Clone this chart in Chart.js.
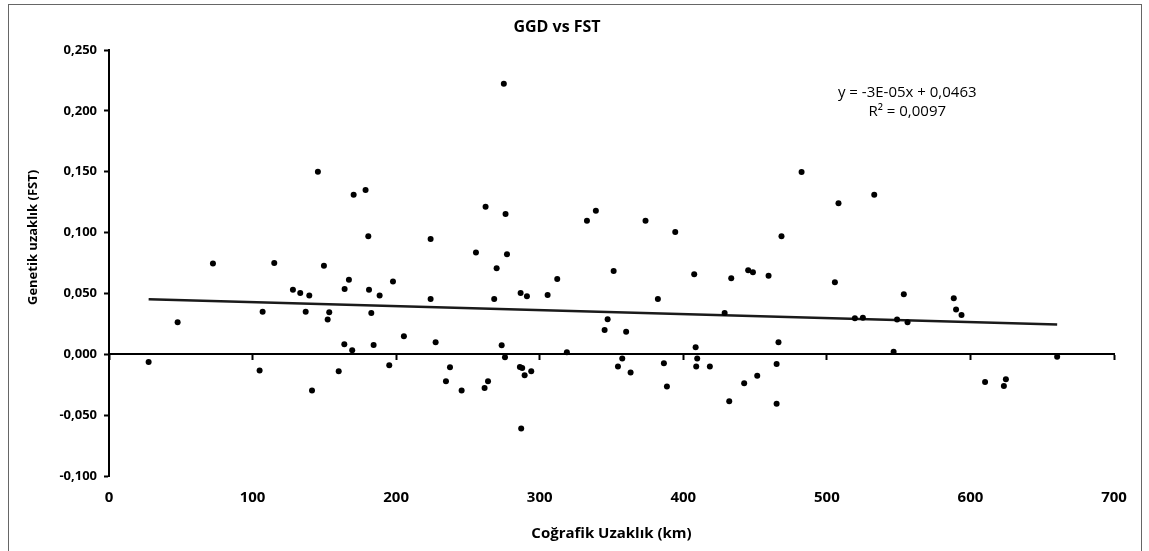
<!DOCTYPE html>
<html>
<head>
<meta charset="utf-8">
<title>GGD vs FST</title>
<script src="https://cdn.jsdelivr.net/npm/chart.js@4.4.1/dist/chart.umd.min.js"></script>
<style>
  html, body { margin:0; padding:0; background:#fff; }
  #wrap { position:relative; width:1149px; height:551px; overflow:hidden; }
  #frame { position:absolute; left:8px; top:4px; width:1132px; height:600px; border:1px solid #666; pointer-events:none; }
  canvas { position:absolute; left:0; top:0; }
</style>
</head>
<body>
<div id="wrap">
  <canvas id="c" width="1149" height="551"></canvas>
  <div id="frame"></div>
</div>
<script>
// distances (km) and FST values
const distKm = [27.6, 47.8, 72.4, 104.9, 107, 115.1, 128.1, 133.2, 137, 139.5,
  141.4, 145.5, 149.7, 152.3, 153.4, 160, 163.9, 164.1, 167.1, 169.4,
  170.4, 178.7, 180.6, 181.1, 182.7, 184.3, 188.5, 195.2, 197.8, 205.4,
  224, 224, 227.5, 234.7, 237.5, 245.6, 255.6, 261.6, 262.3, 264,
  268.3, 270, 273.5, 275, 275.8, 276.2, 277.2, 286.2, 286.7, 287.1,
  287.8, 289.5, 291.1, 294.1, 305.5, 312.2, 318.9, 332.9, 339.1, 345.2,
  347.3, 351.5, 354.5, 357.5, 360.2, 363.3, 373.7, 382.3, 386.5, 388.6,
  394.4, 407.6, 408.6, 409.7, 409, 418.5, 428.8, 432, 433.4, 442.4,
  445.2, 448.5, 451.5, 459.4, 465, 465, 466.3, 468.4, 482.4, 505.6,
  508.1, 519.5, 525.1, 533, 546.5, 548.9, 553.6, 556.2, 588.4, 590,
  593.8, 610.2, 623.3, 624.7, 660.4];
const fst = [-0.0063, 0.0263, 0.0745, -0.0134, 0.035, 0.075, 0.0531, 0.0504, 0.035, 0.0482,
  -0.0298, 0.150, 0.0728, 0.0285, 0.0345, -0.0139, 0.0082, 0.0537, 0.0613, 0.0033,
  0.131, 0.135, 0.097, 0.0531, 0.034, 0.0077, 0.0482, -0.009, 0.0597, 0.0148,
  0.0947, 0.0455, 0.0099, -0.0222, -0.0107, -0.0298, 0.0837, -0.0276, 0.1213, -0.0222,
  0.0455, 0.0706, 0.0074, 0.2222, -0.0025, 0.1153, 0.0821, -0.0104, 0.0504, -0.061,
  -0.0112, -0.0172, 0.0476, -0.014, 0.0488, 0.0619, 0.0016, 0.1098, 0.118, 0.020,
  0.0287, 0.0685, -0.0101, -0.0035, 0.0186, -0.015, 0.1098, 0.0455, -0.0074, -0.0265,
  0.1005, 0.0657, 0.0057, -0.0035, -0.0101, -0.0101, 0.034, -0.0386, 0.0624, -0.0238,
  0.069, 0.0673, -0.0177, 0.0646, -0.0079, -0.0407, 0.0099, 0.0969, 0.1498, 0.0591,
  0.124, 0.0296, 0.0301, 0.1311, 0.002, 0.0285, 0.0493, 0.0263, 0.046, 0.0367,
  0.0323, -0.0227, -0.026, -0.0205, -0.0021];

// linear trend line ends
const trendX = [27.6, 660.4];
const trendY = [0.0452, 0.0244];

const xTicks = [0, 100, 200, 300, 400, 500, 600, 700];
const yTicks = [-0.1, -0.05, 0, 0.05, 0.1, 0.15, 0.2, 0.25];

const eqLines = ['y = -3E-05x + 0,0463', 'R² = 0,0097'];

Chart.defaults.font.family = "'Open Sans', sans-serif";
Chart.defaults.color = '#000';

const fmt = (v) => v.toFixed(3).replace('.', ',');

const yTitle = {
  id: 'yTitle',
  afterDraw(chart) {
    const {ctx, chartArea} = chart;
    ctx.save();
    ctx.translate(33, chartArea.top + chartArea.height * 0.44);
    ctx.rotate(-Math.PI / 2);
    ctx.font = "bold 13px 'Open Sans'";
    ctx.textAlign = 'center';
    ctx.textBaseline = 'middle';
    ctx.fillStyle = '#000';
    ctx.fillText('Genetik uzaklık (FST)', 0, 0);
    ctx.restore();
  }
};

const equation = {
  id: 'equation',
  afterDraw(chart) {
    const {ctx, scales} = chart;
    const cx = scales.x.getPixelForValue(556);
    ctx.save();
    ctx.font = "15px 'Open Sans'";
    ctx.textAlign = 'center';
    ctx.textBaseline = 'middle';
    ctx.fillStyle = '#000';
    ctx.fillText(eqLines[0], cx, scales.y.getPixelForValue(0.2149));
    ctx.fillText(eqLines[1], cx, scales.y.getPixelForValue(0.1993));
    ctx.restore();
  }
};

new Chart(document.getElementById('c'), {
  type: 'scatter',
  data: {
    datasets: [
      {
        label: 'FST',
        data: distKm.map((x, i) => ({x, y: fst[i]})),
        backgroundColor: '#000',
        borderWidth: 0,
        pointRadius: 3,
        pointHoverRadius: 3
      },
      {
        type: 'line',
        label: 'Trend',
        data: trendX.map((x, i) => ({x, y: trendY[i]})),
        borderColor: '#1a1a1a',
        borderWidth: 2.5,
        pointRadius: 0,
        fill: false
      }
    ]
  },
  options: {
    responsive: false,
    animation: false,
    events: [],
    layout: {padding: {left: 0, right: 35, top: 0, bottom: 0}},
    plugins: {
      legend: {display: false},
      tooltip: {enabled: false},
      title: {
        display: true,
        text: 'GGD vs FST',
        color: '#000',
        font: {size: 16, weight: 'bold'},
        padding: {top: 17.4, bottom: 13.4}
      }
    },
    scales: {
      x: {
        type: 'linear',
        position: {y: 0},
        min: 0, max: 700,
        afterBuildTicks: (s) => { s.ticks = xTicks.map(v => ({value: v})); },
        ticks: {display: false},
        grid: {drawOnChartArea: false, drawTicks: true, tickLength: 5, tickColor: '#000', tickWidth: 2},
        border: {display: true, color: '#000', width: 2}
      },
      x2: {
        type: 'linear',
        position: 'bottom',
        min: 0, max: 700,
        afterBuildTicks: (s) => { s.ticks = xTicks.map(v => ({value: v})); },
        afterFit: (s) => { s.height = 75; },
        ticks: {font: {size: 15, weight: 'bold'}, padding: 13, maxRotation: 0},
        grid: {display: false, drawTicks: false},
        border: {display: false},
        title: {
          display: true,
          text: 'Coğrafik Uzaklık (km)',
          font: {size: 15, weight: 'bold'},
          padding: {top: 0, bottom: 8}
        }
      },
      y: {
        type: 'linear',
        position: 'left',
        min: -0.1, max: 0.25,
        afterBuildTicks: (s) => { s.ticks = yTicks.map(v => ({value: v})); },
        afterFit: (s) => { s.width = 109; },
        ticks: {font: {size: 13, weight: 'bold'}, padding: 7, callback: (v) => fmt(v)},
        grid: {color: 'transparent', drawTicks: true, tickLength: 5, tickColor: '#000', tickWidth: 2},
        border: {display: true, color: '#000', width: 2}
      }
    }
  },
  plugins: [yTitle, equation]
});
</script>
</body>
</html>
